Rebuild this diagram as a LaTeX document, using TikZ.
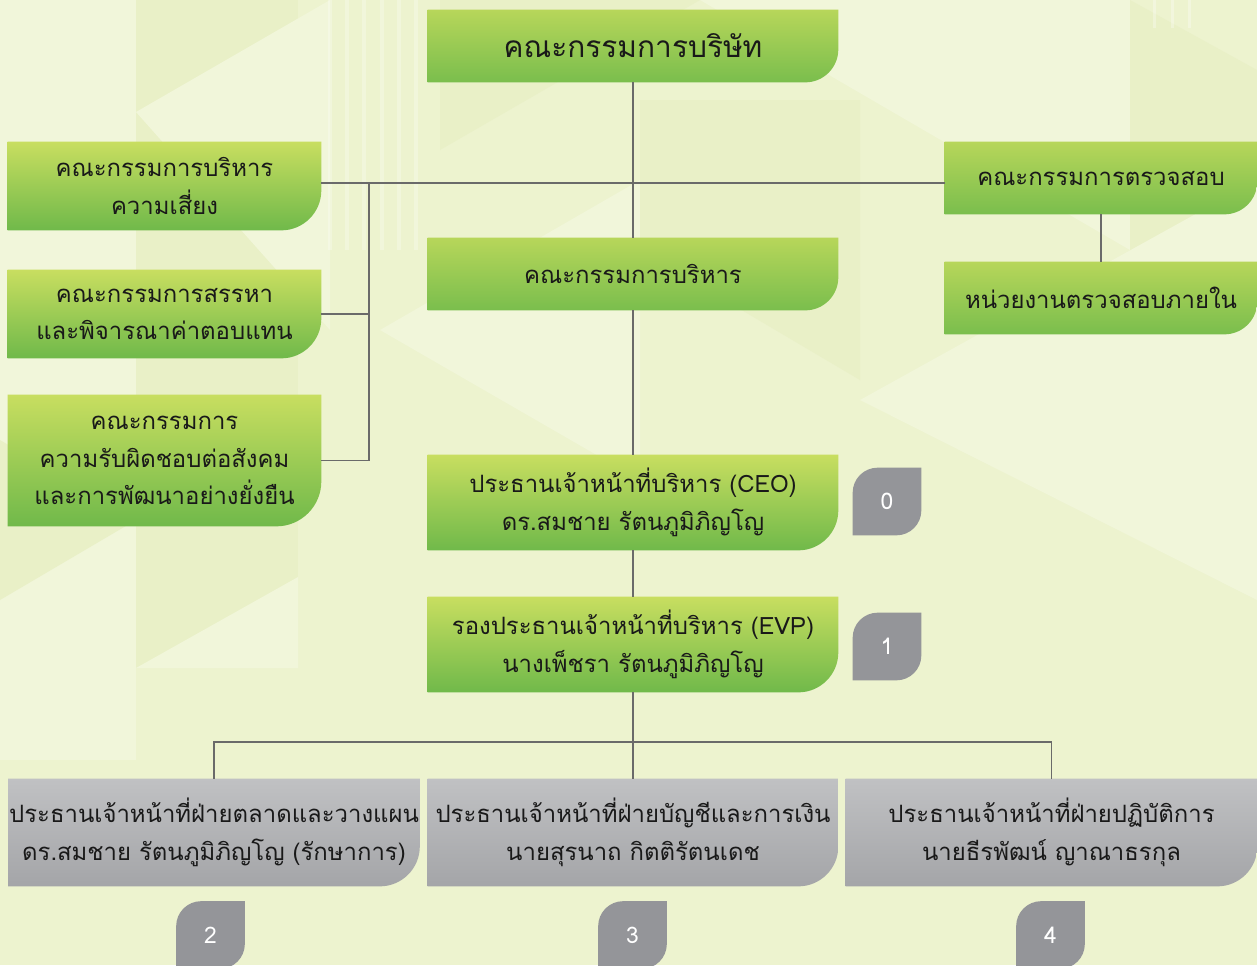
\documentclass[tikz,border=0pt]{standalone}
\usepackage{fontspec}
\newfontfamily\thaifont[Script=Thai]{Loma}
\definecolor{bgc}{RGB}{237,243,207}
\definecolor{bglite}{RGB}{241,246,218}
\definecolor{bgdark}{RGB}{233,240,199}
\definecolor{gtop}{RGB}{200,222,96}
\definecolor{gbot}{RGB}{112,185,74}
\definecolor{ytop}{RGB}{183,214,90}
\definecolor{ybot}{RGB}{122,190,77}
\definecolor{stop}{RGB}{192,193,195}
\definecolor{sbot}{RGB}{164,165,168}
\definecolor{tabc}{RGB}{148,149,153}
\definecolor{linec}{RGB}{106,106,106}
\definecolor{inkc}{RGB}{25,25,25}
\pgfdeclarelayer{deco}
\pgfdeclarelayer{plates}
\pgfsetlayers{deco,plates,main}
\newcommand{\plate}[3]{%
  \begin{pgfonlayer}{plates}
  \shade[#3] (#1.north west) -- (#1.north east) -- ([yshift=#2]#1.south east)
    arc[start angle=0,end angle=-90,radius=#2] -- (#1.south west) -- cycle;
  \end{pgfonlayer}}
\newcommand{\leaf}[2]{%
  \begin{pgfonlayer}{plates}
  \fill[tabc] (#1.north east) -- ([yshift=#2]#1.south east)
    arc[start angle=0,end angle=-90,radius=#2] -- (#1.south west)
    -- ([yshift=-#2]#1.north west) arc[start angle=180,end angle=90,radius=#2] -- cycle;
  \end{pgfonlayer}}
\begin{document}
\begin{tikzpicture}[x=0.02cm, y=-0.02cm, inner sep=0pt,
    box/.style={rectangle, align=center, text=inkc, font=\thaifont\fontsize{13.6}{21.5}\selectfont},
    wide/.style={box, minimum width=8.2cm, minimum height=1.44cm},
    tall/.style={box, minimum width=8.2cm, minimum height=1.9cm},
    side/.style={box, minimum width=6.26cm, minimum height=1.76cm},
    slim/.style={box, minimum width=6.24cm, minimum height=1.44cm},
    unit/.style={box, minimum width=8.22cm, minimum height=2.14cm},
    num/.style={rectangle, minimum width=1.36cm, minimum height=1.34cm, text=white, font=\thaifont\fontsize{13}{15}\selectfont},
    link/.style={draw=linec, line width=0.9pt}]

	\clip (0,0) rectangle (1257,965);
	\begin{pgfonlayer}{deco}
		\fill[bgc] (0,0) rectangle (1257,965);
		\fill[bglite] (0,0) rectangle (136,760);
		\fill[bgdark] (136,0) rectangle (298,668);
		\fill[bglite] (136,112) -- (330,0) -- (330,330) -- cycle;
		\fill[bglite] (136,668) -- (298,577) -- (298,668) -- cycle;
		\fill[bgdark] (0,440) -- (136,520) -- (0,600) -- cycle;
		\fill[bgdark] (440,0) -- (700,0) -- (440,150) -- cycle;
		\fill[bglite] (700,0) -- (1130,0) -- (1130,250) -- cycle;
		\fill[bgdark] (1130,0) -- (1257,70) -- (1257,400) -- (1130,330) -- cycle;
		\fill[bglite] (380,330) -- (640,180) -- (640,480) -- cycle;
		\fill[bgdark] (640,100) -- (860,100) -- (860,380) -- (640,250) -- cycle;
		\fill[bglite] (860,400) -- (1257,180) -- (1257,600) -- cycle;
		\foreach \sx in {328,345,362,380,397,414}
			\fill[white, opacity=0.25] (\sx,0) rectangle ++(4,250);
		\foreach \sx in {1153,1171,1188}
			\fill[white, opacity=0.3] (\sx,0) rectangle ++(3,28);
	\end{pgfonlayer}

	\node[wide, font=\thaifont\fontsize{17}{20}\selectfont] at (633,46) (board) {คณะกรรมการบริษัท};
	\node[side] at (164.5,186) (risk) {คณะกรรมการบริหาร\\ความเสี่ยง};
	\node[side] at (164.5,314) (nomi) {คณะกรรมการสรรหา\\และพิจารณาค่าตอบแทน};
	\node[side, minimum height=2.62cm] at (164.5,460.5) (csr) {คณะกรรมการ\\ความรับผิดชอบต่อสังคม\\และการพัฒนาอย่างยั่งยืน};
	\node[wide] at (633,274) (exec) {คณะกรรมการบริหาร};
	\node[slim] at (1101,178) (audit) {คณะกรรมการตรวจสอบ};
	\node[slim] at (1101,298) (inaudit) {หน่วยงานตรวจสอบภายใน};
	\node[tall] at (633,502.5) (ceo) {ประธานเจ้าหน้าที่บริหาร (CEO)\\ดร.สมชาย รัตนภูมิภิญโญ};
	\node[tall] at (633,644.5) (evp) {รองประธานเจ้าหน้าที่บริหาร (EVP)\\นางเพ็ชรา รัตนภูมิภิญโญ};
	\node[unit] at (214,832.5) (mkt) {ประธานเจ้าหน้าที่ฝ่ายตลาดและวางแผน\\ดร.สมชาย รัตนภูมิภิญโญ (รักษาการ)};
	\node[unit, minimum width=8.2cm] at (633,832.5) (fin) {ประธานเจ้าหน้าที่ฝ่ายบัญชีและการเงิน\\นายสุรนาถ กิตติรัตนเดช};
	\node[unit] at (1051.5,832.5) (ops) {ประธานเจ้าหน้าที่ฝ่ายปฏิบัติการ\\นายธีรพัฒน์ ญาณาธรกุล};
	\node[num] at (887,501.5) (n0) {0};
	\node[num] at (887,646.5) (n1) {1};
	\node[num] at (210.5,935) (n2) {2};
	\node[num] at (632.5,935) (n3) {3};
	\node[num] at (1050.5,935) (n4) {4};

	\plate{board}{0.66cm}{top color=ytop, bottom color=ybot}
	\plate{exec}{0.66cm}{top color=ytop, bottom color=ybot}
	\plate{risk}{0.8cm}{top color=gtop, bottom color=gbot}
	\plate{nomi}{0.8cm}{top color=gtop, bottom color=gbot}
	\plate{csr}{0.9cm}{top color=gtop, bottom color=gbot}
	\plate{audit}{0.66cm}{top color=ytop, bottom color=ybot}
	\plate{inaudit}{0.66cm}{top color=ytop, bottom color=ybot}
	\plate{ceo}{0.8cm}{top color=gtop, bottom color=gbot}
	\plate{evp}{0.8cm}{top color=gtop, bottom color=gbot}
	\plate{mkt}{0.8cm}{top color=stop, bottom color=sbot}
	\plate{fin}{0.8cm}{top color=stop, bottom color=sbot}
	\plate{ops}{0.8cm}{top color=stop, bottom color=sbot}
	\foreach \t in {n0,n1,n2,n3,n4} {\leaf{\t}{0.5cm}}

	\coordinate (boardbus) at (633,183);
	\coordinate (leftbus) at (369,183);
	\coordinate (unitbus) at (633,742);

	\path[link] (board) -- (exec);
	\path[link] (risk.east |- boardbus) -- (audit.west |- boardbus);
	\path[link] (leftbus) |- (csr.east);
	\path[link] (leftbus |- nomi.east) -- (nomi.east);
	\path[link] (audit) -- (inaudit);
	\path[link] (exec) -- (ceo);
	\path[link] (ceo) -- (evp);
	\path[link] (evp) -- (fin);
	\path[link] (mkt.north) -- (mkt.north |- unitbus) -- (ops.north |- unitbus) -- (ops.north);
\end{tikzpicture}
\end{document}
